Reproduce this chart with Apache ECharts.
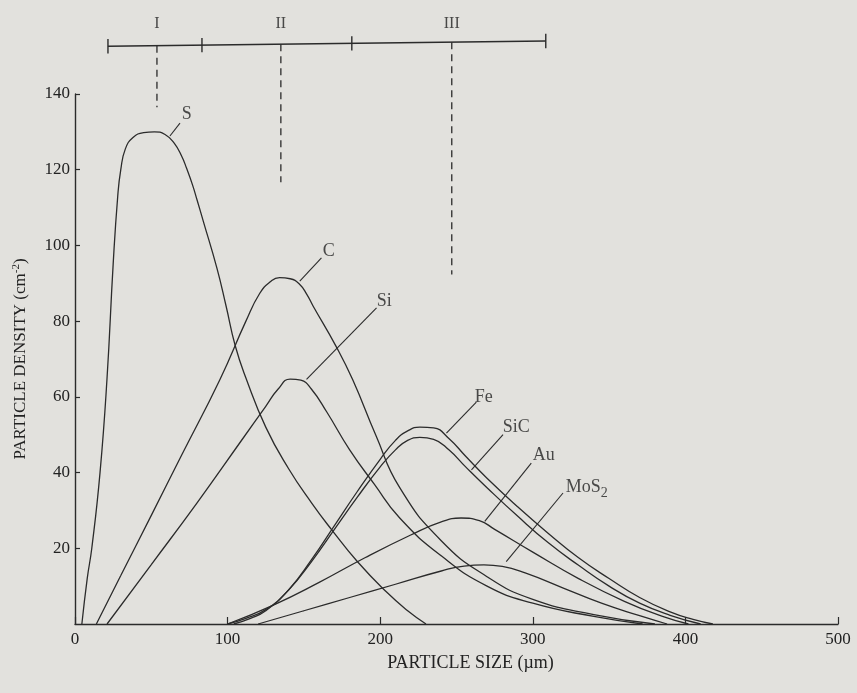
<!DOCTYPE html>
<html><head><meta charset="utf-8">
<script src="https://cdn.jsdelivr.net/npm/echarts@6/dist/echarts.min.js"></script>
<style>html,body{margin:0;padding:0;background:#e2e1dd;}#c{width:857px;height:693px;}</style>
</head><body><div id="c"></div>
<script>
// ---- data (x: particle size in µm, y: particle density in cm^-2) ----
const xTicks = [0, 100, 200, 300, 400, 500];
const yTicks = [0, 20, 40, 60, 80, 100, 120, 140];
const S_data = [[4.5,0],[8,12],[11,20],[16.4,40],[21,65],[25,95],[28,113],[30,120],[33,125.5],[38,128.5],[45,129.8],[52,130],[59,129.3],[65,127],[70,123.5],[73,120.5],[77,116],[80,112],[84,106.5],[93,94],[99,84],[105,73.5],[112,65],[125,52],[140,41],[155,32],[168,25],[185,16.5],[204,8.5],[218,3.5],[230,0]];
const C_data = [[14,0],[30,12.8],[50,28.7],[70,44.7],[95,64.6],[112,80],[121,87.3],[128,90.4],[134,91.5],[141,91.2],[147,89.8],[152,87],[156,84],[171,73.4],[182,64.5],[197,50],[212.8,36],[240,22],[270,12.5],[300,6.5],[340,2.5],[380,0]];
const Si_data = [[21,0],[50,15.7],[80,32],[110,49],[125,57.5],[133,62],[141,64.7],[148,64.4],[155,62],[165,56],[180,46],[196,37],[212.8,28],[240,18],[270,10],[300,5.5],[340,2],[372,0]];
const Fe_data = [[104,0],[115,1.5],[125,3.5],[140,9],[155,17],[170,26],[185,35],[200,43.5],[210,48.5],[218,51],[226,52],[235,51.8],[245,49],[256,44.3],[270,38.5],[290,31],[310,24],[330,17.5],[350,12],[370,7],[390,3.2],[405,1.2],[418,0]];
const SiC_data = [[100,0],[112,1.5],[125,3.8],[140,9],[155,16.5],[170,25],[185,33.5],[200,41.5],[210,46],[218,48.5],[226,49.3],[235,48.8],[245,46],[256,41.5],[270,36],[290,28.5],[310,21.5],[330,15.5],[350,10],[370,5.5],[390,2.3],[410,0]];
const Au_data = [[100,0],[130,5],[160,11],[190,17.5],[220,23.5],[240,27],[253,28],[265,27.3],[275,25],[300,19],[330,12],[360,6],[385,2],[402,0]];
const MoS2_data = [[120,0],[150,3.5],[180,7],[210,10.5],[240,14],[255,15.3],[268,15.6],[280,15.2],[295,13.5],[320,9.5],[345,5.5],[370,2.2],[388,0]];
const curveNames = ['S','C','Si','Fe','SiC','Au','MoS2'];
// curve labels: [text, labelLeftX, labelY, leaderFromX, leaderFromY, leaderToX, leaderToY]
const curveLabels = [
  ['S', 70, 134.7, 62.2, 128.9, 68.8, 132.3],
  ['C', 162.4, 98.4, 147.3, 90.6, 161.5, 96.7],
  ['Si', 197.8, 85.2, 151.7, 64.6, 197.6, 83.5],
  ['Fe', 262, 60, 243.4, 50.4, 263, 58.6],
  ['SiC', 280.3, 52, 259.8, 40.7, 280.5, 50],
  ['Au', 300, 44.7, 268.5, 27.1, 299, 42.5],
  ['MoS2', 321.6, 36.2, 282.6, 16.5, 319.8, 34.6]
];
// top region scale
const regionBar = [[21.6, 152.6], [308.5, 154]];
const regionTicksX = [21.6, 83.2, 181.4, 308.5];
const regionNames = ['I', 'II', 'III'];
const regionCentersX = [53.7, 134.9, 246.9];
const regionDashEndY = [136.5, 116.7, 92.3];
const regionLabelY = 158.5;

// ---- build ----
const ink = '#2b2b2b';
const font = 'Liberation Serif';
function barY(x){ const [a,b]=regionBar; return a[1]+(b[1]-a[1])*(x-a[0])/(b[0]-a[0]); }
const series = [];
const allData = [S_data,C_data,Si_data,Fe_data,SiC_data,Au_data,MoS2_data];
allData.forEach((d,i)=>series.push({type:'line',name:curveNames[i],data:d,smooth:0.5,symbol:'none',lineStyle:{color:ink,width:1.3},z:3}));
curveLabels.forEach(l=>{
  series.push({type:'line',data:[[l[3],l[4]],[l[5],l[6]]],symbol:'none',lineStyle:{color:ink,width:1.1},z:3});
});
series.push({type:'scatter',symbolSize:0,data:curveLabels.map(l=>({value:[l[1],l[2]],name:l[0]})),
  label:{show:true,position:'right',distance:0,color:'#222',fontFamily:font,fontSize:18,
    formatter:p=>p.name==='MoS2'?'MoS{s|2}':p.name,rich:{s:{fontFamily:font,fontSize:14,verticalAlign:'bottom',padding:[12,0,0,0],color:'#222'}}},z:4});
// region bar
series.push({type:'line',data:regionBar,symbol:'none',clip:false,lineStyle:{color:ink,width:1.4}});
regionTicksX.forEach(x=>{const y=barY(x);series.push({type:'line',data:[[x,y-1.9],[x,y+1.9]],symbol:'none',clip:false,lineStyle:{color:ink,width:1.4}});});
regionCentersX.forEach((x,i)=>{const y=barY(x);series.push({type:'line',data:[[x,y],[x,regionDashEndY[i]]],symbol:'none',clip:false,lineStyle:{color:ink,width:1.3,type:[7,5]}});});
series.push({type:'scatter',symbolSize:0,clip:false,data:regionNames.map((n,i)=>({value:[regionCentersX[i],regionLabelY],name:n})),
  label:{show:true,position:'inside',formatter:p=>p.name,color:'#222',fontFamily:font,fontSize:16}});

const chart = echarts.init(document.getElementById('c'));
chart.setOption({
  backgroundColor:'#e2e1dd',
  animation:false,
  grid:{left:75,right:19,top:94,bottom:69},
  xAxis:{type:'value',min:xTicks[0],max:xTicks[xTicks.length-1],interval:100,
    name:'PARTICLE SIZE (µm)',nameLocation:'middle',nameGap:30,nameTextStyle:{fontFamily:font,fontSize:18,color:'#222',padding:[0,0,0,28]},
    axisLine:{lineStyle:{color:ink,width:1.4}},axisTick:{inside:true,length:7,lineStyle:{color:ink,width:1.2}},
    axisLabel:{fontFamily:font,fontSize:17,color:'#222',margin:7},splitLine:{show:false}},
  yAxis:{type:'value',min:yTicks[0],max:yTicks[yTicks.length-1],interval:20,
    name:'PARTICLE DENSITY (cm{s|-2})',nameLocation:'middle',nameGap:44,
    nameTextStyle:{fontFamily:font,fontSize:17,color:'#222',rich:{s:{fontFamily:font,fontSize:11,verticalAlign:'top',padding:[0,0,9,0],color:'#222'}}},
    axisLine:{show:true,lineStyle:{color:ink,width:1.4}},axisTick:{show:true,inside:true,length:5,lineStyle:{color:ink,width:1.2}},
    axisLabel:{showMinLabel:false,fontFamily:font,fontSize:17,color:'#222',margin:5},splitLine:{show:false}},
  series:series
});
</script></body></html>
